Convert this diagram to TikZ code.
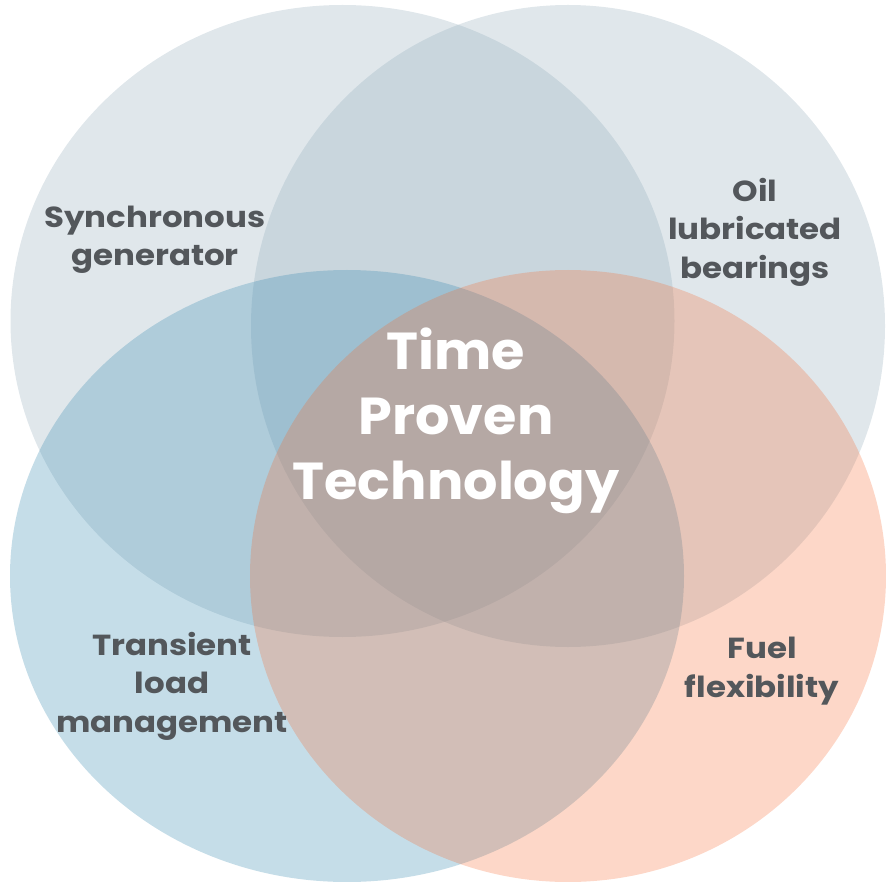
\documentclass[tikz,border=0pt]{standalone}
\usepackage{fontspec}
\setmainfont{Poppins}
\newfontfamily\lblfont[FakeStretch=1.12]{Poppins}
\newfontfamily\ctrfont[FakeStretch=1.04]{Poppins}
\definecolor{greyblue}{HTML}{8FA9B8}
\definecolor{lblue}{HTML}{3086AD}
\definecolor{peach}{HTML}{F7652A}
\definecolor{txt}{HTML}{53575B}
\tikzset{
  venn/.style={fill opacity=0.28, draw=none},
  lbl/.style={text=txt, font=\lblfont\bfseries\fontsize{29}{38.5}\selectfont, align=center, inner sep=0pt},
  ctr/.style={text=white, font=\ctrfont\bfseries\fontsize{52}{65}\selectfont, align=center, inner sep=0pt}
}
\begin{document}
\begin{tikzpicture}[x=1pt,y=-1pt]
\useasboundingbox (0,0) rectangle (886,882);
\fill[venn, fill=greyblue] (342.5,321) ellipse [x radius=332pt, y radius=316pt];
\fill[venn, fill=greyblue] (568,326) ellipse [x radius=317pt, y radius=321pt];
\fill[venn, fill=lblue] (347,576) ellipse [x radius=337pt, y radius=306pt];
\fill[venn, fill=peach, fill opacity=0.26] (568,576) ellipse [x radius=318pt, y radius=306pt];
\node[lbl] (sync) at (155,240) {Synchronous\\generator};
\node[lbl] (oil) at (755,232) {Oil\\lubricated\\bearings};
\node[lbl] (trans) at (172,686) {Transient\\load\\management};
\node[lbl] (fuel) at (762,671) {Fuel\\flexibility};
\node[ctr] (center) at (456,421) {Time\\Proven\\Technology};
\end{tikzpicture}
\end{document}
